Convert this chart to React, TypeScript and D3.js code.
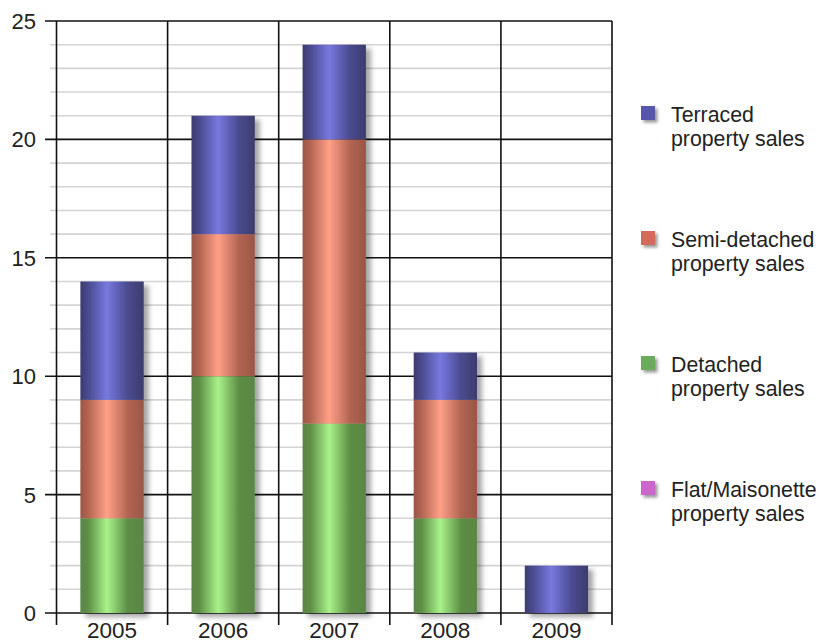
import React from 'react';
import * as d3 from 'd3';

const years = ['2005', '2006', '2007', '2008', '2009'];
const detached = [4, 10, 8, 4, 0];
const semiDetached = [5, 6, 12, 5, 0];
const terraced = [5, 5, 4, 2, 2];
const flat = [0, 0, 0, 0, 0];
const yTicks = [0, 5, 10, 15, 20, 25];

// stack order bottom -> top
const seriesNames = ['Flat/Maisonette', 'Detached', 'Semi-detached', 'Terraced'];
const seriesValues = [flat, detached, semiDetached, terraced];
const legendOrder = ['Terraced', 'Semi-detached', 'Detached', 'Flat/Maisonette'];

const palette: Record<string, { swatch: string; edge: string; mid: string; dark: string }> = {
  Terraced: { swatch: '#5656aa', edge: '#4a4a8e', mid: '#7878e0', dark: '#3c3c6e' },
  'Semi-detached': { swatch: '#d36a5c', edge: '#b26452', mid: '#ffa088', dark: '#9a5646' },
  Detached: { swatch: '#6caa5c', edge: '#5c8e44', mid: '#a9f28a', dark: '#5a8646' },
  'Flat/Maisonette': { swatch: '#cc66cc', edge: '#a050a0', mid: '#f0a0f0', dark: '#804080' },
};

const W = 823;
const H = 643;
const left = 56.5;
const right = 612;
const top = 21;
const bottom = 613;

export default function App() {
  const x = d3.scaleBand<string>().domain(years).range([left, right]).paddingInner(0).paddingOuter(0);
  const y = d3.scaleLinear().domain([0, 25]).range([bottom, top]);
  const minor = d3.range(1, 25).filter((v) => v % 5 !== 0);
  const barW = x.bandwidth() * 0.57;

  const rows = years.map((yr, i) => {
    const obj: Record<string, number | string> = { year: yr };
    seriesNames.forEach((s, k) => (obj[s] = seriesValues[k][i]));
    return obj;
  });
  const stacked = d3.stack<Record<string, number | string>>().keys(seriesNames)(rows as any);

  const font = '"Liberation Sans", Arial, Helvetica, sans-serif';

  return (
    <svg width={W} height={H} style={{ position: 'absolute', left: 0, top: 0, background: '#fff' }}>
      <defs>
        {seriesNames.map((s) => {
          const c = palette[s];
          return (
            <linearGradient key={s} id={`grad-${s.replace(/\W/g, '')}`} x1="0" x2="1" y1="0" y2="0">
              <stop offset="0%" stopColor={c.dark} />
              <stop offset="12%" stopColor={c.edge} />
              <stop offset="42%" stopColor={c.mid} />
              <stop offset="75%" stopColor={c.edge} />
              <stop offset="100%" stopColor={c.dark} />
            </linearGradient>
          );
        })}
        <filter id="shadow" x="-20%" y="-20%" width="150%" height="150%">
          <feDropShadow dx="5" dy="4" stdDeviation="2.5" floodColor="#000" floodOpacity="0.35" />
        </filter>
        <filter id="shadowSmall" x="-50%" y="-50%" width="200%" height="200%">
          <feDropShadow dx="2.5" dy="2.5" stdDeviation="1.5" floodColor="#000" floodOpacity="0.4" />
        </filter>
      </defs>

      {/* minor grid */}
      {minor.map((v) => (
        <line key={`m${v}`} x1={50} x2={right} y1={y(v)} y2={y(v)} stroke="#d4d4d4" strokeWidth={1.6} />
      ))}
      {/* major grid + ticks */}
      {yTicks.map((v) => (
        <g key={`t${v}`}>
          <line x1={45} x2={right} y1={y(v)} y2={y(v)} stroke="#111" strokeWidth={1.6} />
          <text x={36} y={y(v)} dy="0.36em" textAnchor="end" fontSize={22} fontFamily={font} fill="#222">
            {v}
          </text>
        </g>
      ))}
      {/* vertical lines */}
      {[...years.map((yr) => x(yr) as number), right].map((xv, i) => (
        <line key={`v${i}`} x1={xv} x2={xv} y1={top} y2={bottom + 12} stroke="#111" strokeWidth={1.6} />
      ))}

      {/* bars */}
      {years.map((yr, i) => {
        const bx = (x(yr) as number) + (x.bandwidth() - barW) / 2;
        return (
          <g key={yr} filter="url(#shadow)">
            {stacked.map((layer) => {
              const d = layer[i];
              if (d[1] - d[0] <= 0) return null;
              return (
                <rect
                  key={layer.key}
                  x={bx}
                  width={barW}
                  y={y(d[1])}
                  height={y(d[0]) - y(d[1])}
                  fill={`url(#grad-${layer.key.replace(/\W/g, '')})`}
                />
              );
            })}
          </g>
        );
      })}

      {/* x labels */}
      {years.map((yr) => (
        <text
          key={`xl${yr}`}
          x={(x(yr) as number) + x.bandwidth() / 2}
          y={638}
          textAnchor="middle"
          fontSize={22.5}
          fontFamily={font}
          fill="#222"
        >
          {yr}
        </text>
      ))}

      {/* legend */}
      {legendOrder.map((s, i) => {
        const ly = 106 + i * 125;
        return (
          <g key={`lg${s}`}>
            <rect x={641} y={ly} width={14} height={14} fill={palette[s].swatch} filter="url(#shadowSmall)" />
            <text x={671} y={ly + 16} fontSize={21.3} fontFamily={font} fill="#222">
              {s}
            </text>
            <text x={671} y={ly + 39.5} fontSize={21.3} fontFamily={font} fill="#222">
              property sales
            </text>
          </g>
        );
      })}
    </svg>
  );
}
